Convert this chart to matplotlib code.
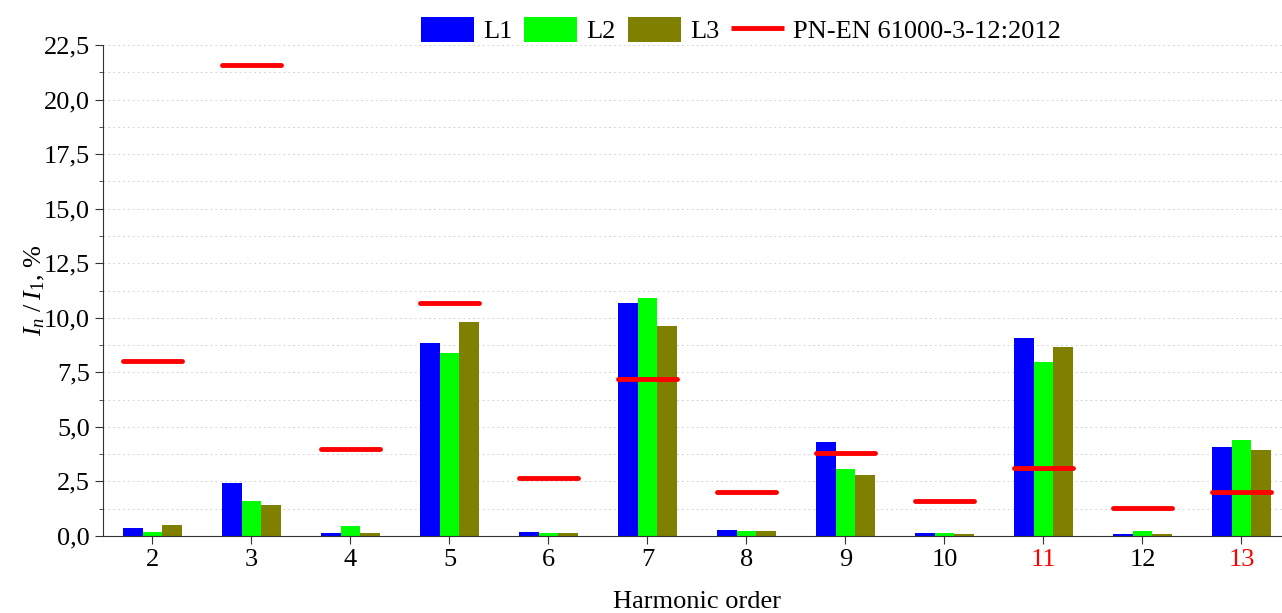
import matplotlib
matplotlib.use("Agg")
import matplotlib.pyplot as plt
import numpy as np
from matplotlib.ticker import MultipleLocator, FuncFormatter

orders = [2, 3, 4, 5, 6, 7, 8, 9, 10, 11, 12, 13]
L1 = [0.35, 2.44, 0.12, 8.84, 0.18, 10.69, 0.27, 4.29, 0.15, 9.09, 0.10, 4.08]
L2 = [0.20, 1.62, 0.44, 8.39, 0.14, 10.92, 0.23, 3.07, 0.16, 7.99, 0.24, 4.40]
L3 = [0.49, 1.43, 0.12, 9.79, 0.15, 9.64, 0.23, 2.78, 0.11, 8.66, 0.11, 3.92]
limit = [8.0, 21.6, 4.0, 10.7, 2.65, 7.2, 2.0, 3.8, 1.6, 3.1, 1.3, 2.0]
red_ticks = [11, 13]

plt.rcParams['font.family'] = ['Liberation Serif', 'DejaVu Serif']
plt.rcParams['mathtext.fontset'] = 'custom'
plt.rcParams['mathtext.rm'] = 'Liberation Serif'
plt.rcParams['mathtext.it'] = 'Liberation Serif:italic'

fig = plt.figure(figsize=(12.82, 6.13), dpi=100)
ax = fig.add_axes([0.0803, 0.1256, 0.9267, 0.801])

x = np.array(orders, dtype=float)
w = 0.2
b1 = ax.bar(x - w, L1, width=w, color='#0000FF', label='L1', zorder=2)
b2 = ax.bar(x, L2, width=w, color='#00FF00', label='L2', zorder=2)
b3 = ax.bar(x + w, L3, width=w, color='#808000', label='L3', zorder=2)
hl = ax.hlines(limit, x - 0.3, x + 0.3, colors='#FF0000', lw=3.5, zorder=3,
               label='PN-EN 61000-3-12:2012', capstyle='round')

ax.set_ylim(0, 22.5)
ax.set_xlim(1.5, 13.5)
ax.yaxis.set_major_locator(MultipleLocator(2.5))
ax.yaxis.set_minor_locator(MultipleLocator(1.25))
ax.yaxis.set_major_formatter(FuncFormatter(lambda v, p: f"{v:.1f}".replace('.', ',')))
ax.set_xticks(orders)
ax.set_xticklabels([str(o) for o in orders])
for lbl, o in zip(ax.get_xticklabels(), orders):
    if o in red_ticks:
        lbl.set_color('#FF0000')

ax.grid(True, which='both', axis='y', linestyle=(0, (2, 3)), color='#d5d5d5', lw=0.7, zorder=0)
ax.set_axisbelow(True)
for s in ['top', 'right']:
    ax.spines[s].set_visible(False)
ax.spines['left'].set_color('#333333')
ax.spines['bottom'].set_color('#333333')
ax.tick_params(axis='both', which='major', labelsize=19, length=6, direction='out', color='#333333')
ax.tick_params(axis='y', which='minor', length=3, direction='out', color='#333333')

ax.set_xlabel('Harmonic order', fontsize=19, labelpad=14)
ax.set_ylabel(r'$I_n\;/\;I_{\mathit{1}}$, %', fontsize=19)
ax.yaxis.set_label_coords(-0.047, 0.5)

fig.legend(handles=[b1, b2, b3, hl], loc='center', bbox_to_anchor=(0.578, 0.951), ncol=4,
           frameon=False, fontsize=19, handlelength=2.0, handleheight=1.1,
           handletextpad=0.35, columnspacing=0.45)

fig.savefig('out.png', dpi=100)
